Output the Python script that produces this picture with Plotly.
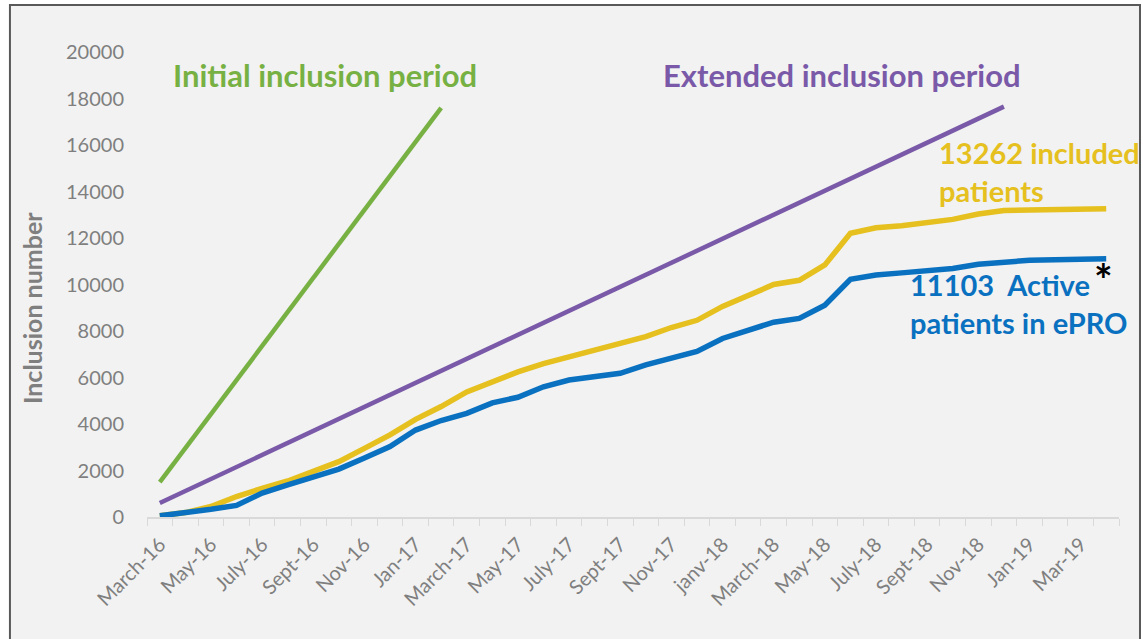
import plotly.graph_objects as go

# Monthly categories (March 2016 - April 2019)
months = ["March-16", "April-16", "May-16", "June-16", "July-16", "Aug-16", "Sept-16", "Oct-16",
          "Nov-16", "Dec-16", "Jan-17", "Feb-17", "March-17", "April-17", "May-17", "June-17",
          "July-17", "Aug-17", "Sept-17", "Oct-17", "Nov-17", "Dec-17", "janv-18", "Feb-18",
          "March-18", "April-18", "May-18", "June-18", "July-18", "Aug-18", "Sept-18", "Oct-18",
          "Nov-18", "Dec-18", "Jan-19", "Feb-19", "Mar-19", "Apr-19"]

# Cumulative included patients
included = [50, 190, 450, 880, 1230, 1550, 1960, 2380, 2950, 3530, 4200, 4750, 5380, 5820,
            6240, 6600, 6890, 7140, 7440, 7760, 8150, 8460, 9060, 9540, 10000, 10180, 10840,
            12200, 12440, 12530, 12660, 12800, 13030, 13180, 13200, 13220, 13240, 13262]

# Cumulative active patients in ePRO
active = [50, 170, 330, 500, 1030, 1380, 1740, 2060, 2540, 3030, 3740, 4150, 4460, 4910,
          5150, 5600, 5890, 6040, 6180, 6540, 6820, 7120, 7680, 8040, 8380, 8540, 9110,
          10220, 10410, 10500, 10580, 10690, 10870, 10980, 11040, 11060, 11080, 11103]

# Planned inclusion targets (start / end of each period)
initial_x = ["March-16", "Feb-17"]
initial_y = [1500, 17600]
extended_x = ["March-16", "Dec-18"]
extended_y = [600, 17650]

y_ticks = [0, 2000, 4000, 6000, 8000, 10000, 12000, 14000, 16000, 18000, 20000]

GREEN = "#78b143"
PURPLE = "#7a5aa8"
YELLOW = "#e5c01e"
BLUE = "#0a71c0"
GREY = "#7f7f7f"
FONT = "Lato"

fig = go.Figure()
fig.add_trace(go.Scatter(x=initial_x, y=initial_y, mode="lines",
                         line=dict(color=GREEN, width=4.5), name="Initial inclusion period"))
fig.add_trace(go.Scatter(x=extended_x, y=extended_y, mode="lines",
                         line=dict(color=PURPLE, width=4.5), name="Extended inclusion period"))
fig.add_trace(go.Scatter(x=months, y=included, mode="lines",
                         line=dict(color=YELLOW, width=5.5), name="Included patients"))
fig.add_trace(go.Scatter(x=months, y=active, mode="lines",
                         line=dict(color=BLUE, width=5.5), name="Active patients in ePRO"))

tick_text = [m if i % 2 == 0 else "" for i, m in enumerate(months)]

fig.update_layout(
    width=1143, height=639,
    margin=dict(l=147, r=24, t=52, b=122),
    paper_bgcolor="white",
    plot_bgcolor="rgba(0,0,0,0)",
    showlegend=False,
    font=dict(family=FONT, color=GREY),
    xaxis=dict(
        type="category", categoryorder="array", categoryarray=months,
        range=[-0.5, len(months) - 0.5],
        tickmode="array", tickvals=months, ticktext=tick_text,
        tickson="boundaries", ticks="outside", ticklen=7, tickcolor="#d9d9d9",
        tickangle=-45, ticklabelstandoff=6,
        tickfont=dict(family=FONT, size=20, color=GREY),
        showline=True, linecolor="#d9d9d9", linewidth=2,
        showgrid=False, zeroline=False, fixedrange=True,
    ),
    yaxis=dict(
        range=[0, 20000], tickmode="array", tickvals=y_ticks,
        ticktext=[str(v) for v in y_ticks],
        tickfont=dict(family=FONT, size=20, color=GREY),
        ticks="", ticklabelstandoff=22,
        showgrid=False, zeroline=False, showline=False,
    ),
    shapes=[dict(type="rect", xref="paper", yref="paper", layer="below",
                 x0=-0.141, x1=1.0216, y0=-0.3, y1=1.101,
                 fillcolor="#f2f2f2", line=dict(color="#595959", width=2))],
)

# Axis title
fig.add_annotation(text="<b>Inclusion number</b>", x=-0.1183, y=0.4495, xref="paper", yref="paper",
                   textangle=-90, showarrow=False, xanchor="center", yanchor="middle",
                   font=dict(family=FONT, size=25, color=GREY))

ann = [
    dict(text="<b>Initial inclusion period</b>", x=6.45, y=19020, color=GREEN, xanchor="center", size=31),
    dict(text="<b>Extended inclusion period</b>", x=26.66, y=19020, color=PURPLE, xanchor="center", size=31),
    dict(text="<b>13262 included<br>patients</b>", x=30.37, y=14850, color=YELLOW, xanchor="left", size=29),
    dict(text="<b>11103  Active<br>patients in ePRO</b>", x=29.24, y=9170, color=BLUE, xanchor="left", size=29),
]
for a in ann:
    fig.add_annotation(text=a["text"], x=a["x"], y=a["y"], xref="x", yref="y",
                       xanchor=a["xanchor"], yanchor="middle", showarrow=False, align="left",
                       font=dict(family=FONT, size=a["size"], color=a["color"]))
fig.add_annotation(text="<b>*</b>", x=36.9, y=10250, xref="x", yref="y", showarrow=False,
                   xanchor="center", yanchor="middle",
                   font=dict(family=FONT, size=44, color="black"))

fig.write_html("out.html")
